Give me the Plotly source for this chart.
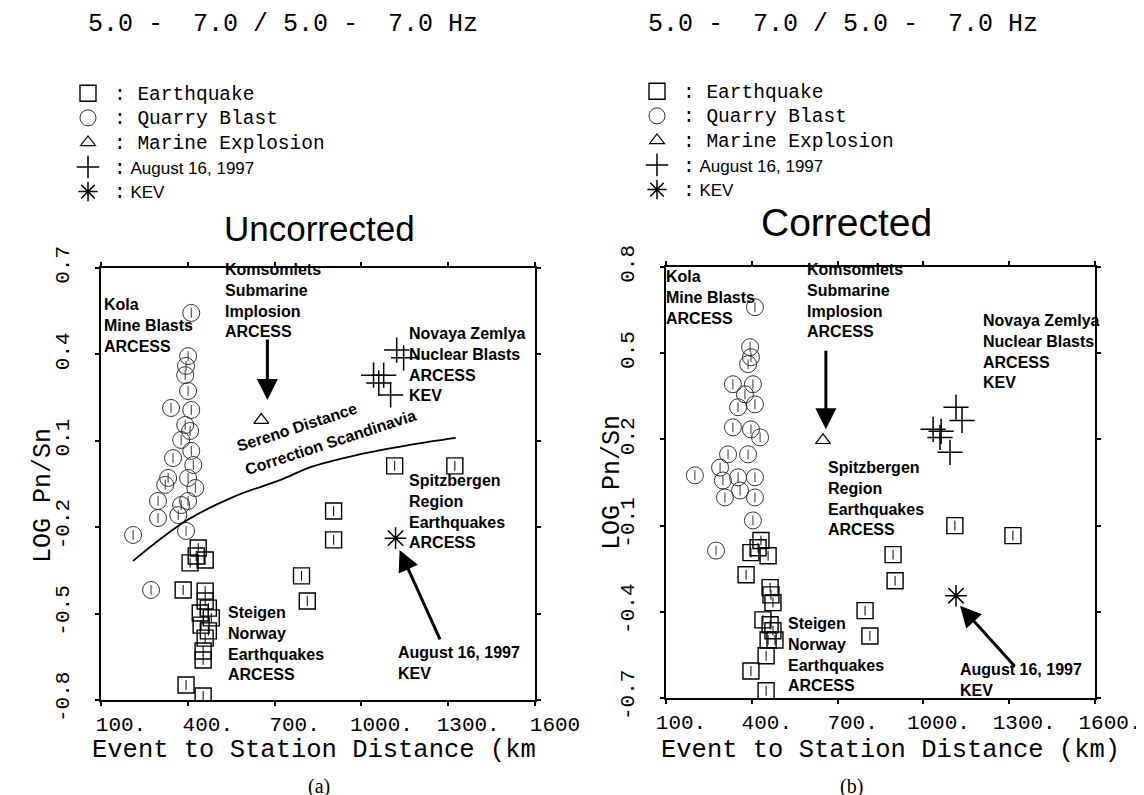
import plotly.graph_objects as go

W, H = 1144, 795
MONO = "Liberation Mono"
SANS = "Liberation Sans"
SERIF = "Liberation Serif"

# ---------------- data : (a) Uncorrected ----------------
quarry_x_a = [412, 401, 394, 391, 401, 342, 412, 391, 408, 377, 412, 419, 332, 401, 322,
              297, 377, 401, 297, 367, 211, 394, 273, 349, 426]
quarry_y_a = [0.544, 0.394, 0.360, 0.328, 0.273, 0.214, 0.207, 0.155, 0.134, 0.103, 0.065,
              0.016, -0.029, -0.029, -0.053, -0.109, -0.123, -0.109, -0.168, -0.158, -0.227,
              -0.213, -0.418, 0.040, -0.064]
quake_x_a = [436, 408, 460, 429, 384, 460, 460, 471, 446, 471, 460, 453, 453, 394, 453,
             793, 813, 904, 904, 1115, 1323, 481, 443]
quake_y_a = [-0.272, -0.324, -0.314, -0.300, -0.418, -0.422, -0.456, -0.481, -0.540, -0.560,
             -0.585, -0.630, -0.661, -0.748, -0.786, -0.369, -0.456, -0.144, -0.244, 0.013,
             0.013, -0.515, -0.498]
marine_x_a = [654]
marine_y_a = [0.172]
aug_x_a = [1122, 1146, 1042, 1077, 1060, 1101]
aug_y_a = [0.415, 0.388, 0.328, 0.328, 0.301, 0.259]
kev_x_a = [1118]
kev_y_a = [-0.238]
sereno_x = [211, 394, 564, 723, 817, 990, 1163, 1326]
sereno_y = [-0.317, -0.178, -0.092, -0.035, 0.006, 0.052, 0.085, 0.110]

# ---------------- data : (b) Corrected ----------------
quarry_x_b = [411, 394, 397, 387, 334, 404, 376, 411, 352, 334, 397, 429, 317, 387, 201,
              289, 299, 352, 411, 306, 411, 359, 404, 275]
quarry_y_b = [0.660, 0.521, 0.486, 0.462, 0.392, 0.392, 0.357, 0.322, 0.312, 0.242, 0.235,
              0.207, 0.148, 0.148, 0.075, 0.102, 0.057, 0.068, 0.068, -0.002, -0.002, 0.022,
              -0.082, -0.187]
quake_x_b = [432, 397, 457, 422, 380, 464, 467, 474, 439, 464, 474, 457, 481, 450, 397, 450,
             894, 901, 796, 813, 1110, 1313]
quake_y_b = [-0.152, -0.194, -0.205, -0.177, -0.271, -0.316, -0.341, -0.368, -0.428, -0.445,
             -0.466, -0.498, -0.498, -0.553, -0.606, -0.675, -0.201, -0.292, -0.396, -0.484,
             -0.100, -0.135]
marine_x_b = [649]
marine_y_b = [0.197]
aug_x_b = [1114, 1135, 1034, 1062, 1058, 1093]
aug_y_b = [0.312, 0.266, 0.235, 0.228, 0.207, 0.155]
kev_x_b = [1114]
kev_y_b = [-0.344]

# ---------------- tick labels ----------------
x_ticks = [100, 400, 700, 1000, 1300, 1600]
x_text_a = ["100.", "400.", "700.", "1000.", "1300.", "1600"]
x_text_b = ["100.", "400.", "700.", "1000.", "1300.", "1600."]
y_ticks_a = [0.7, 0.4, 0.1, -0.2, -0.5, -0.8]
y_text_a = ["0.7", "0.4", "0.1", "-0.2", "-0.5", "-0.8"]
y_ticks_b = [0.8, 0.5, 0.2, -0.1, -0.4, -0.7]
y_text_b = ["0.8", "0.5", "0.2", "-0.1", "-0.4", "-0.7"]

NB = "\u00a0"


def px(x):
    return x / W


def py(y):
    return 1 - y / H


fig = go.Figure()

GAP = "<span style='font-family:" + MONO + ";font-size:10px'>" + NB + "</span>"


def mono(s):
    return GAP + "<span style='font-family:" + MONO + ";font-size:19.5px'>:" + NB + s + "</span>"


def sans(s):
    return (GAP + "<span style='font-family:" + MONO + ";font-size:19.5px'>:</span>"
            "<span style='font-family:" + SANS + ";font-size:17px'>" + NB + s + "</span>")


def add_panel(xa, ya, leg, qx, qy, ex, ey, mx, my, ax_, ay_, kx, ky):
    common = dict(xaxis=xa, yaxis=ya, mode="markers", hoverinfo="skip")
    fig.add_trace(go.Scatter(x=ex, y=ey, name=mono("Earthquake"), legend=leg,
                             marker=dict(symbol="square-open", size=16, color="black",
                                         line=dict(color="black", width=1.4)), **common))
    fig.add_trace(go.Scatter(x=ex, y=ey, showlegend=False,
                             marker=dict(symbol="line-ns-open", size=7, color="black",
                                         line=dict(color="black", width=1)), **common))
    fig.add_trace(go.Scatter(x=qx, y=qy, name=mono("Quarry Blast"), legend=leg,
                             marker=dict(symbol="circle-open", size=17, color="#333",
                                         line=dict(color="#333", width=1)), **common))
    fig.add_trace(go.Scatter(x=qx, y=qy, showlegend=False,
                             marker=dict(symbol="line-ns-open", size=7, color="#333",
                                         line=dict(color="#333", width=1)), **common))
    fig.add_trace(go.Scatter(x=mx, y=my, name=mono("Marine Explosion"), legend=leg,
                             marker=dict(symbol="triangle-up-open", size=13, color="black",
                                         line=dict(color="black", width=1.2)), **common))
    fig.add_trace(go.Scatter(x=ax_, y=ay_, legend=leg, name=sans("August 16, 1997"),
                             marker=dict(symbol="cross-thin-open", size=18, color="black",
                                         line=dict(color="black", width=1.5)), **common))
    fig.add_trace(go.Scatter(x=kx, y=ky, legend=leg, name=sans("KEV"),
                             marker=dict(symbol="asterisk-open", size=18, color="black",
                                         line=dict(color="black", width=1.5)), **common))


add_panel("x", "y", "legend", quarry_x_a, quarry_y_a, quake_x_a, quake_y_a,
          marine_x_a, marine_y_a, aug_x_a, aug_y_a, kev_x_a, kev_y_a)
fig.add_trace(go.Scatter(x=sereno_x, y=sereno_y, xaxis="x", yaxis="y", mode="lines",
                         line=dict(color="black", width=1.8, shape="spline"),
                         showlegend=False, hoverinfo="skip"))
add_panel("x2", "y2", "legend2", quarry_x_b, quarry_y_b, quake_x_b, quake_y_b,
          marine_x_b, marine_y_b, aug_x_b, aug_y_b, kev_x_b, kev_y_b)

axis_common = dict(showgrid=False, zeroline=False, showline=True, linecolor="black",
                   linewidth=2, mirror="ticks", ticks="outside", ticklen=4, tickwidth=1.5,
                   tickcolor="black", automargin=False,
                   tickfont=dict(family=MONO, size=21, color="black"))

fig.update_layout(
    width=W, height=H,
    margin=dict(l=0, r=0, t=0, b=0),
    paper_bgcolor="white", plot_bgcolor="white",
    xaxis=dict(domain=[px(93), px(527)], range=[100, 1600], anchor="y", tickangle=0,
               tickvals=x_ticks, ticktext=x_text_a, ticklabelshift=20, **axis_common),
    yaxis=dict(domain=[py(692), py(260)], range=[-0.8, 0.7], anchor="x",
               tickvals=y_ticks_a, ticktext=y_text_a, tickangle=-90,
               ticklabelstandoff=18, **axis_common),
    xaxis2=dict(domain=[px(658), px(1087)], range=[100, 1600], anchor="y2", tickangle=0,
                tickvals=x_ticks, ticktext=x_text_b, ticklabelshift=15, **axis_common),
    yaxis2=dict(domain=[py(690), py(259)], range=[-0.7, 0.8], anchor="x2",
                tickvals=y_ticks_b, ticktext=y_text_b, tickangle=-90,
                ticklabelstandoff=18, **axis_common),
    legend=dict(x=px(60), y=py(68), xanchor="left", yanchor="top",
                font=dict(family=MONO, size=16.6, color="black"),
                bgcolor="rgba(0,0,0,0)", tracegroupgap=0, itemwidth=30),
    legend2=dict(x=px(629), y=py(66), xanchor="left", yanchor="top",
                 font=dict(family=MONO, size=16.6, color="black"),
                 bgcolor="rgba(0,0,0,0)", tracegroupgap=0, itemwidth=30),
    showlegend=True,
)

ann = []


def text(x, y, t, size, family, xanchor="center", yanchor="middle", angle=0):
    ann.append(dict(x=px(x), y=py(y), xref="paper", yref="paper", text=t, showarrow=False,
                    xanchor=xanchor, yanchor=yanchor, textangle=angle, align="left",
                    font=dict(family=family, size=size, color="black")))


hz = "5.0 -" + NB + NB + "7.0 / 5.0 -" + NB + NB + "7.0 Hz"
text(275, 17, hz, 25, MONO)
text(835, 17, hz, 25, MONO)
text(311, 221, "Uncorrected", 35, SANS)
text(838, 215, "Corrected", 39, SANS)
text(35, 488, "LOG Pn/Sn", 25, MONO, angle=-90)
text(604, 475, "LOG Pn/Sn", 25, MONO, angle=-90)
text(82, 742, "Event to Station Distance (km", 25.5, MONO, xanchor="left")
text(651, 742, "Event to Station Distance (km)", 25.5, MONO, xanchor="left")
text(311, 778, "(a)", 20, SERIF)
text(843, 778, "(b)", 20, SERIF)

B = lambda s: "<b>" + s.replace("<br>", "</b><br><b>") + "</b>"
# panel (a) labels
text(94, 317, B("Kola<br>Mine Blasts<br>ARCESS"), 16, SANS, xanchor="left")
text(215, 293, B("Komsomlets<br>Submarine<br>Implosion<br>ARCESS"), 16, SANS, xanchor="left")
text(399, 356, B("Novaya Zemlya<br>Nuclear Blasts<br>ARCESS<br>KEV"), 16, SANS, xanchor="left")
text(399, 503, B("Spitzbergen<br>Region<br>Earthquakes<br>ARCESS"), 16, SANS, xanchor="left")
text(218, 635, B("Steigen<br>Norway<br>Earthquakes<br>ARCESS"), 16, SANS, xanchor="left")
text(388, 655, B("August 16, 1997<br>KEV"), 16, SANS, xanchor="left")
text(288, 419, B("Sereno Distance"), 16, SANS, angle=-18)
text(322, 434, B("Correction Scandinavia"), 16, SANS, angle=-18)
# panel (b) labels
text(656, 290, B("Kola<br>Mine Blasts<br>ARCESS"), 16, SANS, xanchor="left")
text(797, 293, B("Komsomlets<br>Submarine<br>Implosion<br>ARCESS"), 16, SANS, xanchor="left")
text(973, 343, B("Novaya Zemlya<br>Nuclear Blasts<br>ARCESS<br>KEV"), 16, SANS, xanchor="left")
text(818, 490, B("Spitzbergen<br>Region<br>Earthquakes<br>ARCESS"), 16, SANS, xanchor="left")
text(778, 646, B("Steigen<br>Norway<br>Earthquakes<br>ARCESS"), 16, SANS, xanchor="left")
text(950, 672, B("August 16, 1997<br>KEV"), 16, SANS, xanchor="left")


def arrow(xr, yr, x, y, ax, ay):
    ann.append(dict(x=x, y=y, ax=ax, ay=ay, xref=xr, yref=yr, axref=xr, ayref=yr,
                    text="", showarrow=True, arrowhead=2, arrowwidth=3, arrowsize=1.4,
                    arrowcolor="black"))


arrow("x", "y", 675, 0.242, 675, 0.457)
arrow("x", "y", 1132, -0.279, 1274, -0.595)
arrow("x2", "y2", 659, 0.235, 659, 0.514)
arrow("x2", "y2", 1128, -0.379, 1324, -0.595)

fig.update_layout(annotations=ann)
fig.write_html("out.html")
